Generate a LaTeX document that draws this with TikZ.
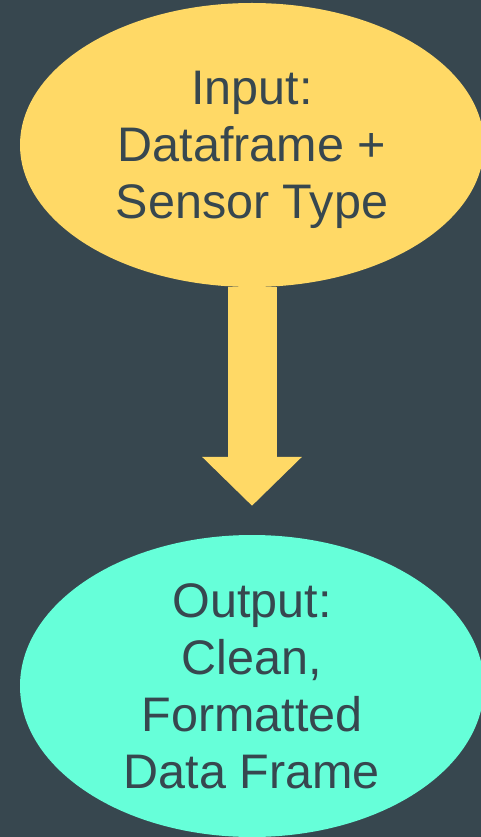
\documentclass[tikz,border=0pt]{standalone}
\usepackage{fontspec}
\setmainfont{Liberation Sans}
\usetikzlibrary{shapes.geometric,arrows.meta}
\definecolor{slate}{HTML}{37474F}
\definecolor{sunny}{HTML}{FFD966}
\definecolor{mint}{HTML}{66FFD9}

\begin{document}
\begin{tikzpicture}[x=1pt,y=1pt,
		blob/.style={ellipse,inner sep=0pt,align=center,text=slate,text depth=0pt,
			font=\fontsize{48.5}{57}\selectfont}]
		\fill[slate] (0,0) rectangle (481,-837);
		\useasboundingbox (0,0) rectangle (481,-837);
		\node[blob,fill=sunny,minimum width=464,minimum height=284] (input) at (252,-145) {Input:\\Dataframe +\\Sensor Type};
		\node[blob,fill=mint,minimum width=464,minimum height=302] (output) at (252,-686) {Output:\\Clean,\\Formatted\\Data Frame};
		\draw[sunny,line width=49pt,-{Triangle[width=97pt,length=49pt]},shorten >=29pt] (input.south) -- (output.north);
	\end{tikzpicture}
\end{document}
